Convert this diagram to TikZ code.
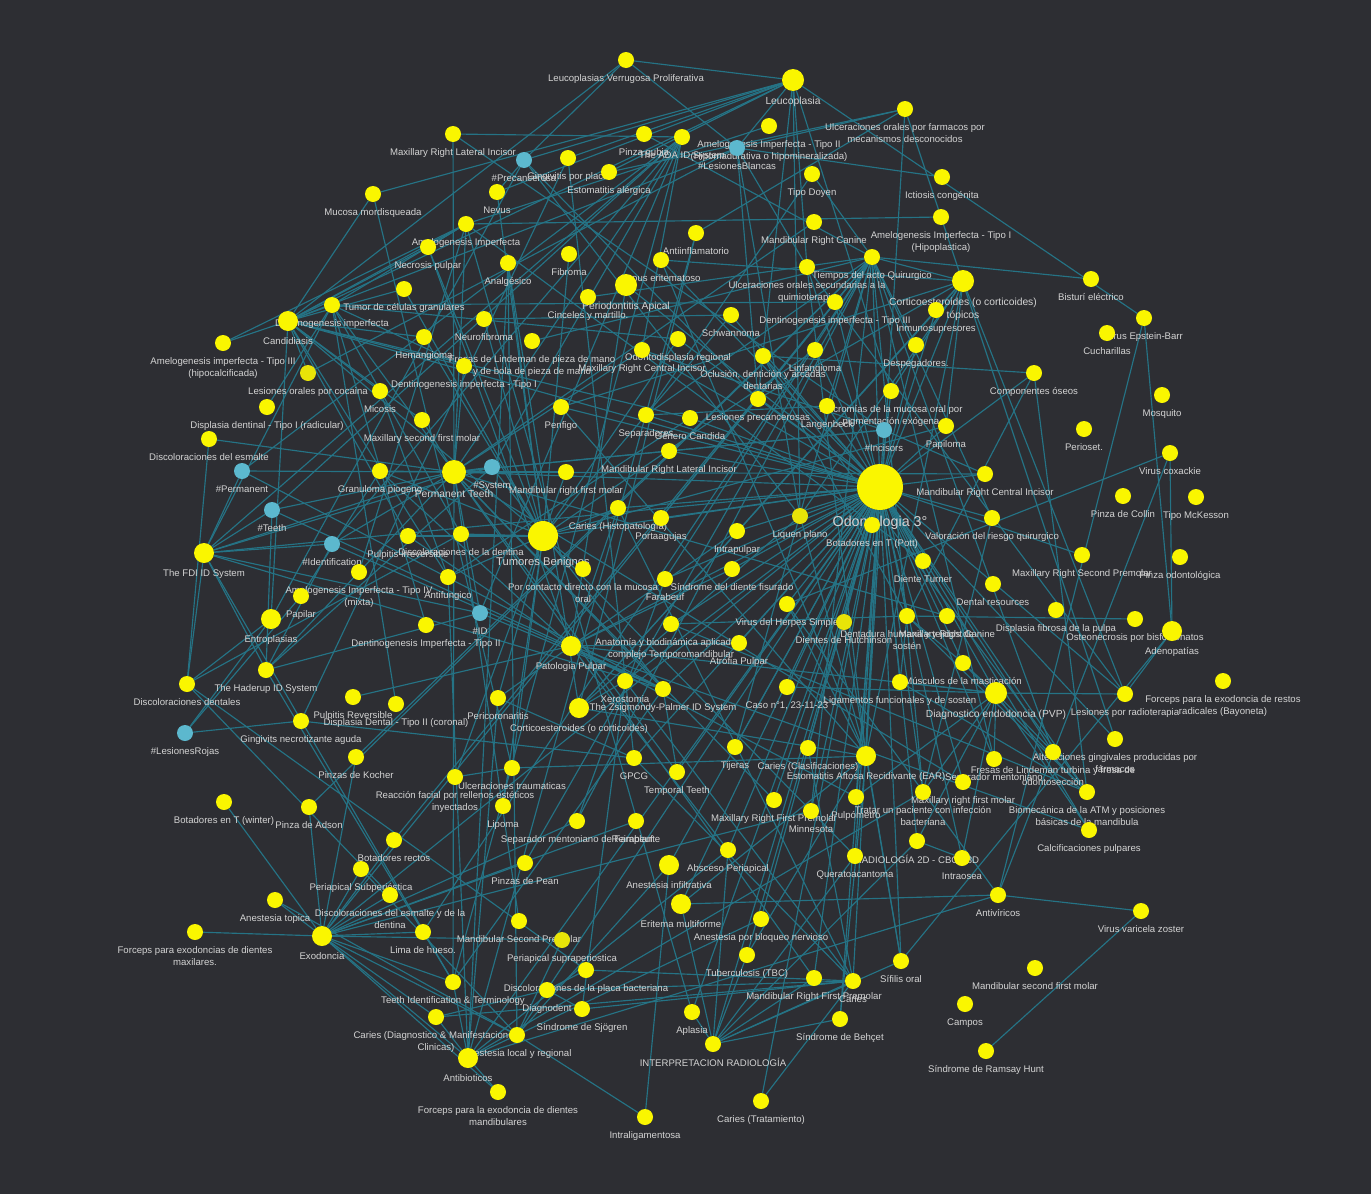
\documentclass[tikz,border=0pt]{standalone}
\usepackage{fontspec}
\setmainfont{Liberation Sans}
\usepackage{tikz}

\definecolor{bgcol}{RGB}{45,46,51}
\definecolor{dotyellow}{RGB}{250,246,0}
\definecolor{dimyellow}{RGB}{232,228,8}
\definecolor{tagcyan}{RGB}{92,184,206}
\definecolor{wirecol}{RGB}{37,115,133}
\definecolor{labelgray}{RGB}{212,212,212}

\newcommand{\lblfont}{\fontsize{9.6}{12}\selectfont}
\newcommand{\hubfont}{\fontsize{10.3}{12.5}\selectfont}
\newcommand{\tbfont}{\fontsize{11.2}{13}\selectfont}
\newcommand{\odofont}{\fontsize{14.3}{17}\selectfont}

\pgfdeclarelayer{back}
\pgfdeclarelayer{wires}
\pgfsetlayers{back,wires,main}

\begin{document}
\begin{tikzpicture}[
    x=1pt, y=-1pt,
    dot/.style={circle, fill=dotyellow, minimum size=16pt, inner sep=0pt},
    dim/.style={dot, fill=dimyellow},
    tag/.style={dot, fill=tagcyan},
    mid/.style={dot, minimum size=20pt},
    big/.style={dot, minimum size=22pt},
    bigger/.style={dot, minimum size=24pt},
    huge/.style={dot, minimum size=30pt},
    hub/.style={dot, minimum size=46pt},
    every label/.style={text=labelgray, font=\lblfont, inner sep=0pt, align=center, yshift=-6pt},
    wire/.style={draw=wirecol, line width=1.15pt}
]

\begin{pgfonlayer}{back}
\fill[bgcol] (0,0) rectangle (1371,1194);
\end{pgfonlayer}
\useasboundingbox (0,0) rectangle (1371,1194);

% Top of the graph
\node[dot, label={below:{Leucoplasias Verrugosa Proliferativa}}] (lvp) at (626,60) {};
\node[big, label={[font=\hubfont]below:{Leucoplasia}}] (leu) at (793,80) {};
\node[dot, label={below:{Ulceraciones orales por farmacos por\\mecanismos desconocidos}}] (ufar) at (905,109) {};
\node[dot, label={below:{Amelogenesis Imperfecta - Tipo II\\(Hipomadurativa o hipomineralizada)}}] (ai2) at (769,126) {};
\node[dot, label={below:{Maxillary Right Lateral Incisor}}] (mrli) at (453,134) {};
\node[dot, label={below:{Pinza gubia}}] (pgub) at (644,134) {};
\node[dot, label={below:{The ADA ID System}}] (ada) at (682,137) {};
\node[tag, label={below:{\#LesionesBlancas}}] (lbl) at (737,148) {};
\node[tag, label={below:{\#Precancerosa}}] (pre) at (524,160) {};
\node[dot, label={below:{Gingivitis por placa}}] (gpp) at (568,158) {};
\node[dot, label={below:{Estomatitis alérgica}}] (estal) at (609,172) {};
\node[dot, label={below:{Tipo Doyen}}] (doyen) at (812,174) {};
\node[dot, label={below:{Ictiosis congénita}}] (icti) at (942,177) {};
\node[dot, label={below:{Nevus}}] (nevus) at (497,192) {};
\node[dot, label={below:{Mucosa mordisqueada}}] (mucm) at (373,194) {};
\node[dot, label={below:{Amelogenesis Imperfecta - Tipo I\\(Hipoplastica)}}] (ai1) at (941,217) {};
\node[dot, label={below:{Mandibular Right Canine}}] (mrc) at (814,222) {};
\node[dot, label={below:{Amelogenesis Imperfecta}}] (ai) at (466,224) {};
\node[dot, label={below:{Antiinflamatorio}}] (antii) at (696,233) {};
\node[dot, label={below:{Necrosis pulpar}}] (necp) at (428,247) {};
\node[dot, label={below:{Fibroma}}] (fibr) at (569,254) {};
\node[dot, label={below:{Tiempos del acto Quirurgico}}] (tiem) at (872,257) {};
\node[dot, label={below:{Lupus eritematoso}}] (lupus) at (661,260) {};
\node[dot, label={below:{Analgésico}}] (analg) at (508,263) {};
\node[dot, label={below:{Ulceraciones orales secundarias a la\\quimioterapia}}] (uquim) at (807,267) {};
\node[dot, label={below:{Bisturí eléctrico}}] (bist) at (1091,279) {};
\node[big, label={[font=\hubfont]below:{Corticoesteroides (o corticoides)\\tópicos}}] (cort) at (963,281) {};
\node[big, label={[font=\hubfont]below:{Periodontitis Apical}}] (perap) at (626,285) {};
\node[dot, label={below:{Tumor de células granulares}}] (tumcg) at (404,289) {};
\node[dot, label={below:{Cinceles y martillo.}}] (cinc) at (588,297) {};
\node[dot, label={below:{Dentinogenesis imperfecta - Tipo III}}] (dit3) at (835,302) {};
\node[dot, label={below:{Dentinogenesis imperfecta}}] (dimp) at (332,305) {};
\node[dot, label={below:{Inmunosupresores}}] (inmu) at (936,310) {};
\node[dot, label={below:{Schwannoma}}] (schw) at (731,315) {};
\node[dot, label={below:{Virus Epstein-Barr}}] (ebv) at (1144,318) {};
\node[dot, label={below:{Neurofibroma}}] (neuro) at (484,319) {};
\node[mid, label={below:{Candidiasis}}] (cand) at (288,321) {};
\node[dot, label={below:{Cucharillas}}] (cuch) at (1107,333) {};
\node[dot, label={below:{Odontodisplasia regional}}] (odonto) at (678,339) {};
\node[dot, label={below:{Hemangioma}}] (hema) at (424,337) {};
\node[dot, label={below:{Amelogenesis imperfecta - Tipo III\\(hipocalcificada)}}] (ai3) at (223,343) {};
\node[dot, label={below:{Fresas de Lindeman de pieza de mano\\y de bola de pieza de mano}}] (fresm) at (532,341) {};
\node[dot, label={below:{Despegadores.}}] (despe) at (916,345) {};
\node[dot, label={below:{Linfangioma}}] (linf) at (815,350) {};
\node[dot, label={below:{Maxillary Right Central Incisor}}] (mrci) at (642,350) {};
\node[dot, label={below:{Oclusión, dentición y arcadas\\dentarias}}] (oclu) at (763,356) {};

% Middle band
\node[dot, label={below:{Dentinogenesis imperfecta - Tipo I}}] (dit1) at (464,366) {};
\node[dim, label={below:{Lesiones orales por cocaina}}] (coca) at (308,373) {};
\node[dot, label={below:{Componentes óseos}}] (comp) at (1034,373) {};
\node[dot, label={below:{Micosis}}] (mico) at (380,391) {};
\node[dot, label={below:{Discromías de la mucosa oral por\\pigmentación exógena}}] (discr) at (891,391) {};
\node[dot, label={below:{Mosquito}}] (mosq) at (1162,395) {};
\node[dot, label={below:{Lesiones precancerosas}}] (lespre) at (758,399) {};
\node[dot, label={below:{Langenbeck}}] (lang) at (827,406) {};
\node[dot, label={below:{Displasia dentinal - Tipo I (radicular)}}] (disp1) at (267,407) {};
\node[dot, label={below:{Penfigo}}] (penf) at (561,407) {};
\node[dot, label={below:{Separadores}}] (sepa) at (646,415) {};
\node[dot, label={below:{Género Candida}}] (genc) at (690,418) {};
\node[dot, label={below:{Maxillary second first molar}}] (msfm) at (422,420) {};
\node[dot, label={below:{Papiloma}}] (papi) at (946,426) {};
\node[tag, label={below:{\#Incisors}}] (incis) at (884,430) {};
\node[dot, label={below:{Perioset.}}] (perio) at (1084,429) {};
\node[dot, label={below:{Discoloraciones del esmalte}}] (desm) at (209,439) {};
\node[dot, label={below:{Mandibular Right Lateral Incisor}}] (mrlat) at (669,451) {};
\node[dot, label={below:{Virus coxackie}}] (coxa) at (1170,453) {};
\node[tag, label={below:{\#System}}] (sys) at (492,467) {};
\node[tag, label={below:{\#Permanent}}] (perm) at (242,471) {};
\node[dot, label={below:{Granuloma piogeno}}] (gran) at (380,471) {};
\node[bigger, label={[font=\hubfont]below:{Permanent Teeth}}] (pt) at (454,472) {};
\node[dot, label={below:{Mandibular right first molar}}] (mrfm) at (566,472) {};
\node[dot, label={below:{Mandibular Right Central Incisor}}] (mrcentral) at (985,474) {};
\node[hub, label={[font=\odofont]below:{Odontologia 3°}}] (odo) at (880,487) {};
\node[dot, label={below:{Pinza de Collin}}] (collin) at (1123,496) {};
\node[dot, label={below:{Tipo McKesson}}] (mck) at (1196,497) {};
\node[dot, label={below:{Caries (Histopatología)}}] (carh) at (618,508) {};
\node[tag, label={below:{\#Teeth}}] (teeth) at (272,510) {};
\node[dim, label={below:{Liquen plano}}] (liq) at (800,516) {};
\node[dot, label={below:{Valoración del riesgo quirurgico}}] (valo) at (992,518) {};
\node[dot, label={below:{Portaagujas}}] (port) at (661,518) {};
\node[dot, label={below:{Botadores en T (Pott)}}] (pott) at (872,525) {};
\node[dot, label={below:{Intrapulpar}}] (intra) at (737,531) {};
\node[dot, label={below:{Discoloraciones de la dentina}}] (ddent) at (461,534) {};
\node[dot, label={below:{Pulpitis Irreversible}}] (pirr) at (408,536) {};
\node[huge, label={[font=\tbfont]below:{Tumores Benignos}}] (tb) at (543,536) {};
\node[tag, label={below:{\#Identification}}] (ident) at (332,544) {};
\node[mid, label={below:{The FDI ID System}}] (fdi) at (204,553) {};
\node[dot, label={below:{Maxillary Right Second Premolar}}] (mrsp) at (1082,555) {};
\node[dot, label={below:{Pinza odontológica}}] (podon) at (1180,557) {};
\node[dot, label={below:{Diente Turner}}] (turner) at (923,561) {};
\node[dot, label={below:{Síndrome del diente fisurado}}] (sdf) at (732,569) {};
\node[dot, label={below:{Por contacto directo con la mucosa\\oral}}] (contact) at (583,569) {};
\node[dot, label={below:{Amelogenesis Imperfecta - Tipo IV\\(mixta)}}] (ai4) at (359,572) {};
\node[dot, label={below:{Antifungico}}] (antif) at (448,577) {};
\node[dot, label={below:{Farabeuf}}] (farab) at (665,579) {};
\node[dot, label={below:{Dental resources}}] (dres) at (993,584) {};
\node[dot, label={below:{Papilar}}] (papil) at (301,596) {};
\node[dot, label={below:{Virus del Herpes Simple}}] (herpes) at (787,604) {};
\node[dot, label={below:{Displasia fibrosa de la pulpa}}] (dfp) at (1056,610) {};
\node[tag, label={below:{\#ID}}] (id) at (480,613) {};
\node[dot, label={below:{Dentadura humana y tejidos de\\sostén}}] (dentad) at (907,616) {};
\node[dot, label={below:{Maxillary Right Canine}}] (mrcan) at (947,616) {};
\node[dot, label={below:{Osteonecrosis por bisfosfonatos}}] (osteo) at (1135,619) {};
\node[mid, label={below:{Entroplasias}}] (entro) at (271,619) {};
\node[dim, label={below:{Dientes de Hutchinson}}] (hutch) at (844,622) {};
\node[dot, label={below:{Anatomía y biodinámica aplicada al\\complejo Temporomandibular}}] (anat) at (671,624) {};
\node[dot, label={below:{Dentinogenesis Imperfecta - Tipo II}}] (dit2) at (426,625) {};
\node[mid, label={below:{Adenopatías}}] (adeno) at (1172,631) {};
\node[dot, label={below:{Atrofia Pulpar}}] (atrof) at (739,643) {};
\node[mid, label={below:{Patologia Pulpar}}] (patp) at (571,646) {};
\node[dot, label={below:{Músculos de la masticación}}] (muscm) at (963,663) {};
\node[dot, label={below:{The Haderup ID System}}] (hader) at (266,670) {};
\node[dot, label={below:{Xerostomia}}] (xero) at (625,681) {};
\node[dot, label={below:{Forceps para la exodoncia de restos\\radicales (Bayoneta)}}] (forb) at (1223,681) {};
\node[dot, label={below:{Ligamentos funcionales y de sosten}}] (ligam) at (900,682) {};
\node[dot, label={below:{Discoloraciones dentales}}] (ddisc) at (187,684) {};
\node[dot, label={below:{Caso n°1, 23-11-23}}] (caso) at (787,687) {};
\node[dot, label={below:{The Zsigmondy-Palmer ID System}}] (zsig) at (663,689) {};
\node[big, label={[font=\hubfont]below:{Diagnostico endodoncia (PVP)}}] (diag) at (996,693) {};
\node[dot, label={below:{Lesiones por radioterapia}}] (lrad) at (1125,694) {};
\node[dot, label={below:{Pulpitis Reversible}}] (prev) at (353,697) {};
\node[dot, label={below:{Pericoronaritis}}] (peric) at (498,698) {};
\node[dot, label={below:{Displasia Dental - Tipo II (coronal)}}] (disp2) at (396,704) {};
\node[mid, label={below:{Corticoesteroides (o corticoides)}}] (corti) at (579,708) {};
\node[dot, label={below:{Gingivits necrotizante aguda}}] (ging) at (301,721) {};
\node[tag, label={below:{\#LesionesRojas}}] (lrojas) at (185,733) {};

% Lower band
\node[dot, label={below:{Alteraciones gingivales producidas por\\fármacos}}] (alter) at (1115,739) {};
\node[dot, label={below:{Tijeras}}] (tije) at (735,747) {};
\node[dot, label={below:{Caries (Clasificaciones)}}] (carc) at (808,748) {};
\node[dot, label={below:{Fresas de Lindeman turbina y fresa de\\odontosección}}] (fresl) at (1053,752) {};
\node[mid, label={below:{Estomatitis Aftosa Recidivante (EAR)}}] (ear) at (866,756) {};
\node[dot, label={below:{Pinzas de Kocher}}] (kocher) at (356,757) {};
\node[dot, label={below:{GPCG}}] (gpcg) at (634,758) {};
\node[dot, label={below:{Separador mentoniano}}] (sment) at (994,759) {};
\node[dot, label={below:{Ulceraciones traumaticas}}] (utra) at (512,768) {};
\node[dot, label={below:{Temporal Teeth}}] (temp) at (677,772) {};
\node[dot, label={below:{Reacción facial por rellenos estéticos\\inyectados}}] (reac) at (455,777) {};
\node[dot, label={below:{Maxillary right first molar}}] (mrfmolar) at (963,782) {};
\node[dot, label={below:{Biomecánica de la ATM y posiciones\\básicas de la mandibula}}] (biom) at (1087,792) {};
\node[dot, label={below:{Tratar un paciente con infección\\bacteriana}}] (tratar) at (923,792) {};
\node[dot, label={below:{Pulpómetro}}] (pulpo) at (856,797) {};
\node[dot, label={below:{Maxillary Right First Premolar}}] (mrfp) at (774,800) {};
\node[dot, label={below:{Botadores en T (winter)}}] (bwin) at (224,802) {};
\node[dot, label={below:{Lipoma}}] (lipo) at (503,806) {};
\node[dot, label={below:{Pinza de Adson}}] (adson) at (309,807) {};
\node[dot, label={below:{Minnesota}}] (minne) at (811,811) {};
\node[dot, label={below:{Separador mentoniano de Farabeuf}}] (smf) at (577,821) {};
\node[dot, label={below:{Reimplante}}] (reimp) at (636,821) {};
\node[dot, label={below:{Calcificaciones pulpares}}] (calc) at (1089,830) {};
\node[dot, label={below:{Botadores rectos}}] (brect) at (394,840) {};
\node[dot, label={below:{RADIOLOGÍA 2D - CBCT 3D}}] (radio) at (917,841) {};
\node[dot, label={below:{Absceso Periapical}}] (absc) at (728,850) {};
\node[dot, label={below:{Queratoacantoma}}] (querat) at (855,856) {};
\node[dot, label={below:{Intraosea}}] (intraos) at (962,858) {};
\node[dot, label={below:{Pinzas de Pean}}] (pean) at (525,863) {};
\node[mid, label={below:{Anestesia infiltrativa}}] (anesi) at (669,865) {};
\node[dot, label={below:{Periapical Subperióstica}}] (psub) at (361,869) {};
\node[dot, label={below:{Antivíricos}}] (antiv) at (998,895) {};
\node[dot, label={below:{Discoloraciones del esmalte y de la\\dentina}}] (dedent) at (390,895) {};
\node[dot, label={below:{Anestesia topica}}] (atop) at (275,900) {};
\node[mid, label={below:{Eritema multiforme}}] (erit) at (681,904) {};
\node[dot, label={below:{Virus varicela zoster}}] (varic) at (1141,911) {};
\node[dot, label={below:{Anestesia por bloqueo nervioso}}] (anesb) at (761,919) {};
\node[dot, label={below:{Mandibular Second Premolar}}] (msp) at (519,921) {};
\node[dot, label={below:{Forceps para exodoncias de dientes\\maxilares.}}] (fmax) at (195,932) {};
\node[mid, label={below:{Exodoncia}}] (exo) at (322,936) {};
\node[dot, label={below:{Lima de hueso.}}] (lima) at (423,932) {};
\node[dim, label={below:{Periapical supraperiostica}}] (psupra) at (562,940) {};
\node[dot, label={below:{Tuberculosis (TBC)}}] (tbc) at (747,955) {};
\node[dot, label={below:{Sífilis oral}}] (sifil) at (901,961) {};
\node[dot, label={below:{Mandibular second first molar}}] (msfmolar) at (1035,968) {};
\node[dot, label={below:{Discoloraciones de la placa bacteriana}}] (placa) at (586,970) {};
\node[dot, label={below:{Mandibular Right First Premolar}}] (mrfpre) at (814,978) {};
\node[dot, label={below:{Caries}}] (caries) at (853,981) {};
\node[dot, label={below:{Teeth Identification \& Terminology}}] (tit) at (453,982) {};
\node[dot, label={below:{Diagnodent}}] (diagn) at (547,990) {};
\node[dot, label={below:{Campos}}] (campos) at (965,1004) {};
\node[dot, label={below:{Síndrome de Sjögren}}] (sjog) at (582,1009) {};
\node[dot, label={below:{Aplasia}}] (aplas) at (692,1012) {};
\node[dot, label={below:{Caries (Diagnostico \& Manifestaciones\\Clinicas)}}] (cdiag) at (436,1017) {};
\node[dot, label={below:{Síndrome de Behçet}}] (behcet) at (840,1019) {};
\node[dot, label={below:{Anestesia local y regional}}] (anesl) at (517,1035) {};
\node[dot, label={below:{INTERPRETACION RADIOLOGÍA}}] (interp) at (713,1044) {};
\node[dot, label={below:{Síndrome de Ramsay Hunt}}] (ramsay) at (986,1051) {};
\node[mid, label={below:{Antibioticos}}] (antib) at (468,1058) {};
\node[dot, label={below:{Forceps para la exodoncia de dientes\\mandibulares}}] (fmand) at (498,1092) {};
\node[dot, label={below:{Caries (Tratamiento)}}] (ctrat) at (761,1101) {};
\node[dot, label={below:{Intraligamentosa}}] (intral) at (645,1117) {};

\begin{pgfonlayer}{wires}
% Odontologia 3° links
\foreach \n in {cort,inmu,despe,discr,papi,incis,lang,lespre,oclu,linf,dit3,uquim,tiem,comp,mrcentral,valo,liq,pott,turner,dentad,mrcan,hutch,herpes,muscm,ligam,diag,ear,carc,tije,caso,atrof,sdf,intra,port,carh,mrlat,genc,sepa,penf,tb,patp,pt,perap,lupus,schw,mrci,odonto,absc,anesi,erit,querat,pulpo,radio,sifil,caries,fresl,sment,mrfmolar,tratar,minne,mrfp,interp,tbc,behcet,zsig,anat,farab,xero,biom,calc,intraos,gpcg,temp,anesb,aplas,alter,lrad,mrsp,ctrat,mrfpre,fdi,cand,exo,antib,anesl}
  \draw[wire] (odo) -- (\n);

% Tumores Benignos links
\foreach \n in {fibr,tumcg,neuro,hema,linf,schw,papi,lipo,querat,nevus,gran,odonto,contact,ddent,carh,mrfm,pirr,antif,peric,utra,reac,cand,analg,necp}
  \draw[wire] (tb) -- (\n);

% Permanent Teeth links
\foreach \n in {mrli,mrci,mrlat,mrcentral,mrc,mrcan,mrfm,msfm,mrfmolar,mrfp,mrfpre,msp,sys,perm,teeth,incis,id,ident,fdi,ada,zsig,hader,temp,tit,desm,gran,dimp,dit1,ai}
  \draw[wire] (pt) -- (\n);

% Candidiasis and white lesions
\foreach \n in {ai,necp,mucm,ai3,coca,mico,genc,antif,lbl,leu,lvp,entro,hema,dit1,tumcg,dimp,pirr,msfm}
  \draw[wire] (cand) -- (\n);
\foreach \n in {lvp,pre,lbl,ebv,mucm,estal,gpp,nevus,lespre,discr,liq,uquim}
  \draw[wire] (leu) -- (\n);
\foreach \n in {lvp,icti,coca,uquim,ufar,liq,lespre}
  \draw[wire] (lbl) -- (\n);
\foreach \n in {lvp,lespre,liq,entro,nevus}
  \draw[wire] (pre) -- (\n);

% Amelogenesis, dentinogenesis, discolorations
\foreach \n in {ai1,ai2,ai3,ai4,necp,dimp,turner,aplas}
  \draw[wire] (ai) -- (\n);
\foreach \n in {dit1,dit2,dit3,disp1,disp2,ddent,odonto,fdi}
  \draw[wire] (dimp) -- (\n);
\foreach \n in {desm,ddent,dedent,placa,entro,fdi}
  \draw[wire] (ddisc) -- (\n);

% Pulp and endodontics
\foreach \n in {pirr,prev,atrof,intra,perap,absc,calc,necp,gran,diag,sdf,carh,peric,pulpo}
  \draw[wire] (patp) -- (\n);
\foreach \n in {pulpo,radio,caso,calc,lrad,muscm,ligam,sment,fresl,tratar,intraos}
  \draw[wire] (diag) -- (\n);

% Anesthesia and drugs
\foreach \n in {anesi,anesb,atop,intral,psub,psupra,exo,antib,analg}
  \draw[wire] (anesl) -- (\n);
\foreach \n in {antii,analg,antif,antiv,exo,tratar,fmand,cdiag,tit,peric,absc}
  \draw[wire] (antib) -- (\n);
\foreach \n in {cort,inmu,antii,analg,liq,ear,xero}
  \draw[wire] (corti) -- (\n);
\foreach \n in {inmu,lupus,penf,liq,lrad,discr,lespre,papi}
  \draw[wire] (cort) -- (\n);

% Exodoncia and surgical times
\foreach \n in {fmax,fmand,bwin,adson,brect,kocher,pean,lima,smf,dedent,psub,atop,tit,cdiag,psupra,reimp,tiem,minne}
  \draw[wire] (exo) -- (\n);
\foreach \n in {sepa,cinc,pgub,despe,bist,lang,farab,port,tije,valo,tratar,cort,smf,kocher,pean,adson,brect,lima,sment,fresm,fresl,minne,doyen}
  \draw[wire] (tiem) -- (\n);

% Oral lesions and viruses
\foreach \n in {herpes,utra,behcet,tbc,sifil,erit,ufar,uquim,lupus,penf,liq,cort}
  \draw[wire] (ear) -- (\n);
\foreach \n in {herpes,varic,erit,ebv,coxa}
  \draw[wire] (antiv) -- (\n);
\draw[wire] (varic) -- (ramsay);
\draw[wire] (coxa) -- (herpes);
\draw[wire] (coxa) -- (adeno);
\draw[wire] (ebv) -- (adeno);
\draw[wire] (lrad) -- (adeno);
\draw[wire] (sifil) -- (adeno);
\draw[wire] (sifil) -- (hutch);
\draw[wire] (uquim) -- (lrad);
\draw[wire] (ufar) -- (antii);
\draw[wire] (ufar) -- (estal);
\draw[wire] (ufar) -- (alter);
\draw[wire] (mucm) -- (utra);
\draw[wire] (reac) -- (utra);
\draw[wire] (schw) -- (neuro);

% Identification systems
\foreach \n in {perm,teeth,ident,sys,id,ada,zsig,hader,tit}
  \draw[wire] (fdi) -- (\n);
\foreach \n in {mrli,mrci,sys,id,teeth,ident,perm,tit}
  \draw[wire] (ada) -- (\n);
\foreach \n in {sys,id,ident,teeth,perm,tit,temp}
  \draw[wire] (zsig) -- (\n);
\foreach \n in {sys,id,ident,teeth,tit}
  \draw[wire] (hader) -- (\n);
\foreach \n in {mrli,mrci,mrlat,mrcentral}
  \draw[wire] (incis) -- (\n);

% Caries and radiology
\foreach \n in {carh,carc,cdiag,ctrat,diagn,placa,interp,sjog,xero,gpcg}
  \draw[wire] (caries) -- (\n);
\foreach \n in {mrfpre,sifil,tbc,aplas,absc,erit,radio,querat,behcet}
  \draw[wire] (interp) -- (\n);
\draw[wire] (radio) -- (intraos);

% Dentadura and ATM
\foreach \n in {comp,ligam,muscm,oclu,anat,biom,osteo}
  \draw[wire] (dentad) -- (\n);
\foreach \n in {anat,muscm,ligam,comp,oclu}
  \draw[wire] (biom) -- (\n);
\draw[wire] (oclu) -- (comp);

% Gums and the rest
\foreach \n in {ging,gpp,peric}
  \draw[wire] (gpcg) -- (\n);
\draw[wire] (ging) -- (lrojas);
\draw[wire] (ging) -- (gpp);
\draw[wire] (lrojas) -- (entro);
\draw[wire] (lrojas) -- (papil);
\draw[wire] (papil) -- (gran);
\draw[wire] (sjog) -- (xero);
\draw[wire] (sjog) -- (diagn);
\draw[wire] (placa) -- (diagn);
\draw[wire] (cdiag) -- (diagn);
\draw[wire] (doyen) -- (sepa);
\draw[wire] (lang) -- (sepa);
\draw[wire] (farab) -- (smf);
\draw[wire] (mico) -- (antif);
\draw[wire] (genc) -- (antif);
\draw[wire] (valo) -- (tratar);
\draw[wire] (intral) -- (anesi);
\end{pgfonlayer}

\end{tikzpicture}
\end{document}
